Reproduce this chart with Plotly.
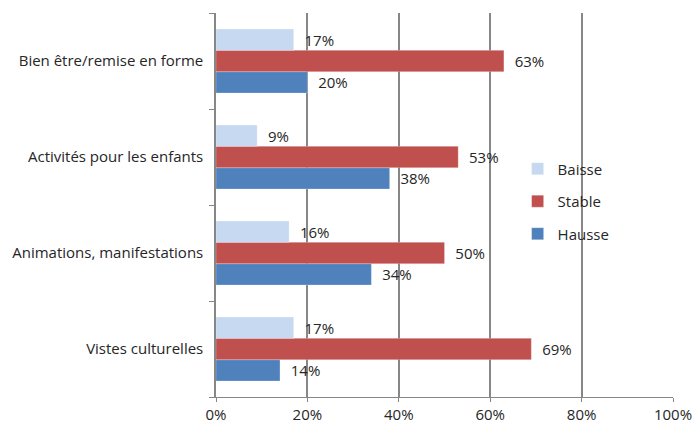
import plotly.graph_objects as go

categories = ["Vistes culturelles", "Animations, manifestations",
              "Activités pour les enfants", "Bien être/remise en forme"]
baisse = [17, 16, 9, 17]
stable = [69, 50, 53, 63]
hausse = [14, 34, 38, 20]
x_ticks = [0, 20, 40, 60, 80, 100]
x_labels = ["0%", "20%", "40%", "60%", "80%", "100%"]

FONT = "Open Sans"
FS = 15
series = [("Hausse", hausse, "#4F81BD", 3), ("Stable", stable, "#C0504D", 2), ("Baisse", baisse, "#C6D9F1", 1)]

fig = go.Figure()
for name, vals, color, rank in series:
    fig.add_trace(go.Bar(
        y=categories, x=vals, name=name, orientation="h",
        marker=dict(color=color, line=dict(color="rgba(255,255,255,0.5)", width=0.5)),
        text=["  %d%%" % v for v in vals], textposition="outside",
        constraintext="none", cliponaxis=False,
        textfont=dict(family=FONT, size=FS, color="#262626"),
        legendgroup=name, legendrank=rank,
    ))

fig.update_layout(
    width=695, height=427,
    margin=dict(l=216, r=22, t=13, b=30, autoexpand=False),
    barmode="group", bargap=1/3, bargroupgap=0,
    plot_bgcolor="white", paper_bgcolor="white",
    font=dict(family=FONT, size=FS, color="#262626"),
    showlegend=True,
    legend=dict(x=0.66, y=0.637, xanchor="left", yanchor="top",
                traceorder="grouped", tracegroupgap=10,
                bgcolor="rgba(0,0,0,0)", font=dict(family=FONT, size=FS, color="#262626"),
                itemwidth=30),
    xaxis=dict(range=[0, 100], tickvals=x_ticks, ticktext=x_labels,
               showgrid=True, gridcolor="#878787", gridwidth=1.5,
               showline=True, linecolor="#878787", linewidth=1,
               ticks="outside", ticklen=4, tickcolor="#878787",
               zeroline=False, tickfont=dict(size=FS), automargin=False),
    yaxis=dict(categoryorder="array", categoryarray=categories,
               showline=True, linecolor="#878787", linewidth=1.5,
               ticks="outside", tickson="boundaries", ticklen=5, tickcolor="#878787",
               showgrid=False, ticklabelstandoff=8, tickfont=dict(size=FS), automargin=False),
)
fig.write_html("out.html", config={"displayModeBar": False},
               post_script="document.body.style.margin='0';")
